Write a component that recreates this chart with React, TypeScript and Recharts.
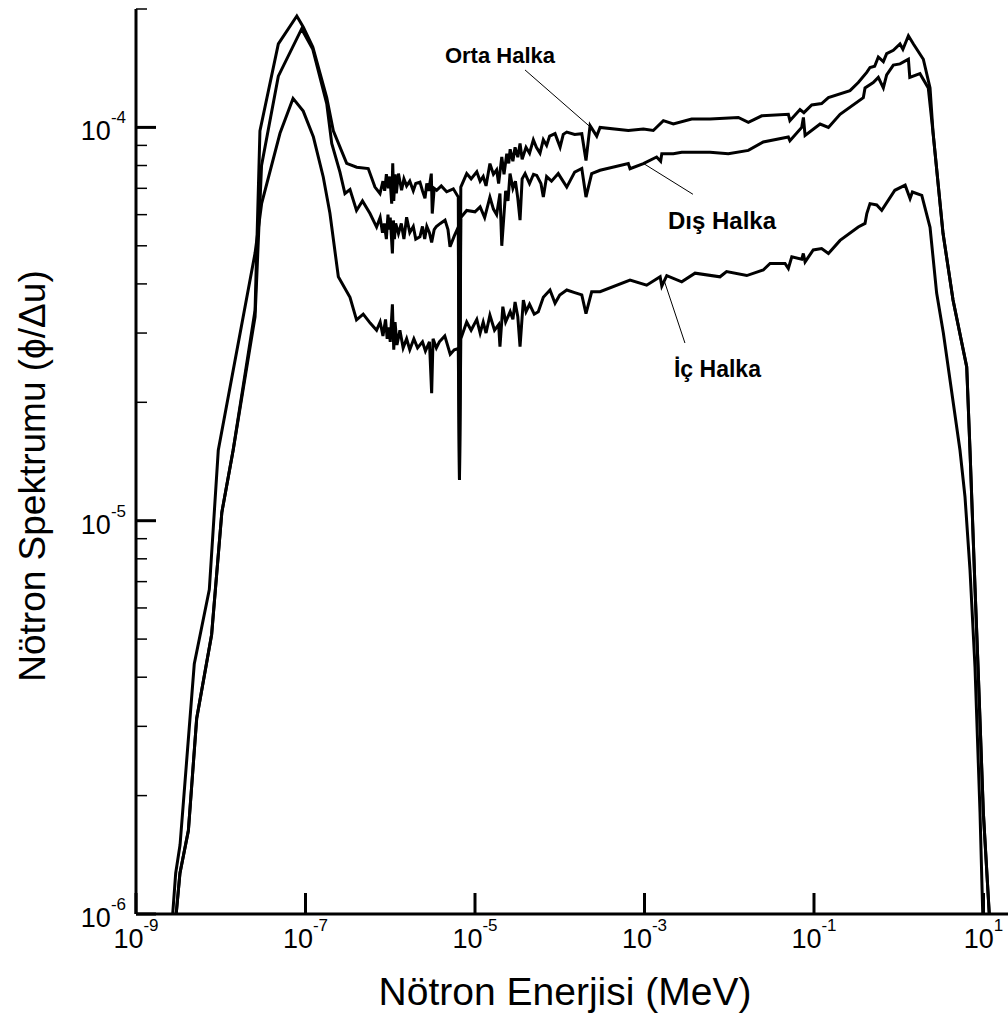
import React from 'react';
import { LineChart, Line, XAxis, YAxis, ReferenceLine, ReferenceDot, Label } from 'recharts';

const FONT = '"Liberation Sans", Arial, Helvetica, sans-serif';

// [energy (MeV), flux per lethargy]
const ortaHalka: [number, number][] = [
  [2.98e-9, 1.0e-6], [3.3e-9, 1.27e-6], [4.15e-9, 1.63e-6], [5.2e-9, 3.14e-6], [7.8e-9, 5.13e-6],
  [1.03e-8, 1.05e-5], [1.4e-8, 1.51e-5], [2.54e-8, 3.43e-5], [2.9e-8, 9.8e-5], [4.78e-8, 1.63e-4],
  [7.9e-8, 1.92e-4], [9.4e-8, 1.8e-4], [1.22e-7, 1.6e-4], [1.78e-7, 1.19e-4], [2.13e-7, 9.8e-5],
  [3.06e-7, 8.1e-5], [4.02e-7, 7.92e-5], [5.5e-7, 7.86e-5], [6.6e-7, 7.05e-5], [7.57e-7, 6.79e-5],
  [8.2e-7, 7.3e-5], [8.6e-7, 6.9e-5], [9.0e-7, 7.6e-5], [9.5e-7, 7.0e-5], [9.9e-7, 7.5e-5],
  [1.04e-6, 6.4e-5], [1.07e-6, 8.1e-5], [1.1e-6, 6.5e-5], [1.14e-6, 7.6e-5], [1.18e-6, 6.8e-5],
  [1.25e-6, 7.63e-5], [1.36e-6, 6.92e-5], [1.45e-6, 7.4e-5], [1.56e-6, 7.1e-5], [1.7e-6, 7.3e-5],
  [1.87e-6, 6.9e-5], [2.0e-6, 7.2e-5], [2.24e-6, 7.26e-5], [2.4e-6, 6.9e-5], [2.57e-6, 6.6e-5],
  [2.7e-6, 7.2e-5], [2.85e-6, 6.9e-5], [3.05e-6, 7.63e-5], [3.13e-6, 6.04e-5], [3.3e-6, 7.0e-5],
  [3.53e-6, 6.92e-5], [4.0e-6, 7.1e-5], [4.63e-6, 6.86e-5], [5.55e-6, 6.98e-5], [6.35e-6, 6.65e-5],
  [6.56e-6, 1.27e-5], [6.8e-6, 7.05e-5], [7.98e-6, 7.63e-5], [9.0e-6, 7.4e-5], [1.05e-5, 7.71e-5],
  [1.15e-5, 7.3e-5], [1.25e-5, 7.5e-5], [1.35e-5, 7.1e-5], [1.5e-5, 8.09e-5], [1.65e-5, 7.6e-5],
  [1.8e-5, 7.8e-5], [1.9e-5, 7.2e-5], [2.07e-5, 8.41e-5], [2.2e-5, 7.6e-5], [2.37e-5, 8.57e-5],
  [2.5e-5, 8.1e-5], [2.6e-5, 8.8e-5], [2.8e-5, 8.2e-5], [2.97e-5, 8.9e-5], [3.2e-5, 8.4e-5],
  [3.4e-5, 9.1e-5], [3.6e-5, 8.3e-5], [4.0e-5, 8.9e-5], [4.4e-5, 8.6e-5], [4.88e-5, 9.3e-5],
  [5.3e-5, 8.9e-5], [5.85e-5, 8.6e-5], [6.4e-5, 9.3e-5], [7.0e-5, 9.0e-5], [7.6e-5, 9.5e-5],
  [8.8e-5, 9.64e-5], [1.01e-4, 8.91e-5], [1.1e-4, 9.6e-5], [1.21e-4, 9.73e-5], [1.5e-4, 9.6e-5],
  [1.82e-4, 9.64e-5], [2.04e-4, 8.24e-5], [2.28e-4, 1.01e-4], [2.73e-4, 9.5e-5], [2.99e-4, 1.0e-4],
  [6.44e-4, 9.82e-5], [9.7e-4, 9.9e-5], [1.27e-3, 9.82e-5], [1.67e-3, 1.04e-4], [2.19e-3, 1.02e-4],
  [3.6e-3, 1.05e-4], [5.93e-3, 1.05e-4], [1.28e-2, 1.06e-4], [1.68e-2, 1.03e-4], [2.42e-2, 1.07e-4],
  [4.98e-2, 1.08e-4], [5.2e-2, 1.04e-4], [6.84e-2, 1.11e-4], [7.6e-2, 1.09e-4], [9.4e-2, 1.14e-4],
  [0.123, 1.15e-4], [0.148, 1.19e-4], [0.266, 1.24e-4], [0.333, 1.3e-4], [0.419, 1.38e-4],
  [0.458, 1.42e-4], [0.52, 1.43e-4], [0.574, 1.51e-4], [0.658, 1.47e-4], [0.72, 1.54e-4],
  [0.863, 1.57e-4], [1.035, 1.63e-4], [1.12, 1.58e-4], [1.3, 1.71e-4], [1.49, 1.63e-4],
  [1.95, 1.49e-4], [2.34, 1.26e-4], [2.54, 9.7e-5], [3.33, 5.38e-5], [4.37, 3.64e-5],
  [6.34, 2.46e-5], [6.93, 1.51e-5], [7.94, 6.76e-6], [8.69, 4.06e-6], [9.96, 1.81e-6],
  [11.7, 1.0e-6],
];

const disHalka: [number, number][] = [
  [2.98e-9, 1.0e-6], [3.3e-9, 1.27e-6], [4.15e-9, 1.63e-6], [5.2e-9, 3.14e-6], [7.8e-9, 5.13e-6],
  [1.03e-8, 1.05e-5], [1.4e-8, 1.51e-5], [2.54e-8, 3.3e-5], [3.03e-8, 8.0e-5], [4.78e-8, 1.35e-4],
  [9.0e-8, 1.78e-4], [1.22e-7, 1.58e-4], [1.78e-7, 1.15e-4], [2.04e-7, 9.1e-5], [2.55e-7, 7.7e-5],
  [2.92e-7, 6.79e-5], [3.35e-7, 6.95e-5], [4.0e-7, 6.15e-5], [4.7e-7, 6.5e-5], [5.77e-7, 6.04e-5],
  [6.9e-7, 5.58e-5], [7.6e-7, 5.9e-5], [8.1e-7, 5.4e-5], [8.5e-7, 5.7e-5], [9.0e-7, 5.2e-5],
  [9.4e-7, 6.0e-5], [9.7e-7, 5.5e-5], [1.0e-6, 5.9e-5], [1.06e-6, 4.78e-5], [1.09e-6, 5.8e-5],
  [1.12e-6, 5.2e-5], [1.16e-6, 5.7e-5], [1.25e-6, 5.37e-5], [1.35e-6, 5.7e-5], [1.45e-6, 5.2e-5],
  [1.56e-6, 5.91e-5], [1.7e-6, 5.4e-5], [1.87e-6, 5.6e-5], [2.0e-6, 5.2e-5], [2.24e-6, 5.27e-5],
  [2.4e-6, 5.6e-5], [2.55e-6, 5.2e-5], [2.7e-6, 5.6e-5], [2.9e-6, 5.4e-5], [3.08e-6, 5.1e-5],
  [3.3e-6, 5.5e-5], [3.5e-6, 5.6e-5], [3.9e-6, 5.7e-5], [4.43e-6, 5.81e-5], [4.8e-6, 5.5e-5],
  [5.07e-6, 4.97e-5], [5.7e-6, 5.3e-5], [6.35e-6, 5.58e-5], [6.56e-6, 1.27e-5], [6.8e-6, 5.9e-5],
  [7.98e-6, 6.15e-5], [1.0e-5, 6.1e-5], [1.15e-5, 6.28e-5], [1.3e-5, 5.9e-5], [1.5e-5, 6.65e-5],
  [1.65e-5, 6.2e-5], [1.8e-5, 6.0e-5], [1.97e-5, 6.79e-5], [2.07e-5, 5.0e-5], [2.3e-5, 6.9e-5],
  [2.45e-5, 6.5e-5], [2.59e-5, 7.63e-5], [2.8e-5, 7.0e-5], [3.0e-5, 7.3e-5], [3.2e-5, 6.6e-5],
  [3.4e-5, 5.81e-5], [3.6e-5, 7.4e-5], [3.9e-5, 7.63e-5], [4.4e-5, 7.2e-5], [4.9e-5, 7.6e-5],
  [5.35e-5, 7.55e-5], [6.0e-5, 7.2e-5], [6.4e-5, 6.65e-5], [7.0e-5, 7.5e-5], [8.0e-5, 7.3e-5],
  [9.6e-5, 7.63e-5], [1.21e-4, 7.05e-5], [1.5e-4, 7.7e-5], [1.82e-4, 7.86e-5], [2.04e-4, 6.65e-5],
  [2.38e-4, 7.63e-5], [2.99e-4, 7.78e-5], [6.44e-4, 8.09e-5], [6.75e-4, 7.85e-5], [9.7e-4, 8.09e-5],
  [1.39e-3, 8.41e-5], [1.55e-3, 8.2e-5], [1.6e-3, 8.57e-5], [2.19e-3, 8.57e-5], [2.75e-3, 8.65e-5],
  [5.93e-3, 8.65e-5], [9.75e-3, 8.57e-5], [1.68e-2, 8.74e-5], [2.52e-2, 9.18e-5], [4.98e-2, 9.45e-5],
  [5.2e-2, 9.25e-5], [7.16e-2, 1.0e-4], [7.5e-2, 1.06e-4], [7.85e-2, 9.54e-5], [0.118, 1.02e-4],
  [0.148, 1.0e-4], [0.203, 1.08e-4], [0.382, 1.19e-4], [0.4, 1.26e-4], [0.5, 1.3e-4],
  [0.574, 1.34e-4], [0.658, 1.26e-4], [0.72, 1.36e-4], [0.863, 1.44e-4], [1.035, 1.45e-4],
  [1.3, 1.49e-4], [1.35, 1.34e-4], [1.78, 1.37e-4], [2.23, 1.26e-4], [2.54, 9.7e-5],
  [3.33, 5.38e-5], [4.37, 3.64e-5], [6.34, 2.46e-5], [6.93, 1.51e-5], [7.94, 6.76e-6],
  [8.69, 4.06e-6], [9.96, 1.81e-6], [11.7, 1.0e-6],
];

const icHalka: [number, number][] = [
  [2.71e-9, 1.0e-6], [2.94e-9, 1.27e-6], [3.31e-9, 1.5e-6], [4.87e-9, 4.32e-6], [7.33e-9, 6.68e-6],
  [9.35e-9, 1.51e-5], [2.54e-8, 4.79e-5], [3.04e-8, 6.41e-5], [5.0e-8, 9.66e-5], [7.13e-8, 1.185e-4],
  [9.4e-8, 1.1e-4], [1.24e-7, 9.45e-5], [1.62e-7, 7.48e-5], [1.94e-7, 6.06e-5], [2.44e-7, 4.17e-5],
  [3.35e-7, 3.7e-5], [4.0e-7, 3.24e-5], [4.8e-7, 3.35e-5], [5.8e-7, 3.18e-5], [6.9e-7, 3.05e-5],
  [7.6e-7, 3.2e-5], [8.2e-7, 2.95e-5], [8.8e-7, 3.25e-5], [9.2e-7, 2.9e-5], [9.6e-7, 3.1e-5],
  [1.0e-6, 2.85e-5], [1.06e-6, 3.55e-5], [1.1e-6, 2.72e-5], [1.14e-6, 3.2e-5], [1.2e-6, 2.8e-5],
  [1.3e-6, 3.05e-5], [1.42e-6, 2.75e-5], [1.56e-6, 2.9e-5], [1.7e-6, 2.72e-5], [1.9e-6, 2.9e-5],
  [2.1e-6, 2.75e-5], [2.4e-6, 2.85e-5], [2.6e-6, 2.7e-5], [2.9e-6, 2.85e-5], [3.08e-6, 2.11e-5],
  [3.2e-6, 2.9e-5], [3.5e-6, 2.75e-5], [3.8e-6, 2.85e-5], [4.4e-6, 2.95e-5], [5.1e-6, 2.65e-5],
  [5.7e-6, 2.72e-5], [6.35e-6, 2.74e-5], [6.56e-6, 1.27e-5], [6.8e-6, 2.9e-5], [7.98e-6, 3.2e-5],
  [9.0e-6, 3.05e-5], [1.05e-5, 3.25e-5], [1.15e-5, 3.0e-5], [1.25e-5, 3.2e-5], [1.35e-5, 3.0e-5],
  [1.5e-5, 3.33e-5], [1.7e-5, 3.05e-5], [1.9e-5, 3.15e-5], [1.97e-5, 2.77e-5], [2.13e-5, 3.5e-5],
  [2.3e-5, 3.2e-5], [2.6e-5, 3.4e-5], [2.8e-5, 3.25e-5], [2.97e-5, 3.6e-5], [3.2e-5, 3.3e-5],
  [3.4e-5, 2.77e-5], [3.72e-5, 3.64e-5], [4.0e-5, 3.4e-5], [4.4e-5, 3.55e-5], [5.0e-5, 3.35e-5],
  [5.58e-5, 3.4e-5], [6.4e-5, 3.7e-5], [7.67e-5, 3.86e-5], [8.8e-5, 3.57e-5], [1.0e-4, 3.75e-5],
  [1.21e-4, 3.86e-5], [1.5e-4, 3.8e-5], [1.82e-4, 3.75e-5], [2.04e-4, 3.36e-5], [2.38e-4, 3.82e-5],
  [2.99e-4, 3.82e-5], [6.75e-4, 4.09e-5], [1.06e-3, 3.97e-5], [1.53e-3, 4.17e-5], [1.6e-3, 3.95e-5],
  [1.83e-3, 4.2e-5], [2.75e-3, 4.05e-5], [3.95e-3, 4.26e-5], [7.78e-3, 4.17e-5], [9.3e-3, 4.3e-5],
  [1.61e-2, 4.2e-5], [2.52e-2, 4.34e-5], [3.03e-2, 4.51e-5], [4.55e-2, 4.51e-5], [4.98e-2, 4.38e-5],
  [5.47e-2, 4.69e-5], [7.16e-2, 4.62e-5], [7.48e-2, 4.78e-5], [7.85e-2, 4.55e-5], [9.8e-2, 4.88e-5],
  [0.123, 4.92e-5], [0.148, 4.78e-5], [0.203, 5.16e-5], [0.333, 5.58e-5], [0.4, 5.7e-5],
  [0.42, 6.04e-5], [0.458, 6.4e-5], [0.55, 6.35e-5], [0.63, 6.15e-5], [0.9, 6.92e-5],
  [1.19, 7.13e-5], [1.36, 6.59e-5], [1.45, 6.85e-5], [1.87, 6.72e-5], [2.34, 5.57e-5],
  [2.8, 3.79e-5], [3.36, 3.0e-5], [5.28, 1.51e-5], [6.05, 1.15e-5], [6.93, 7.5e-6],
  [7.94, 4.24e-6], [9.1, 1.81e-6], [9.8, 1.0e-6],
];

const xTicks = [1e-9, 1e-7, 1e-5, 1e-3, 1e-1, 10];
const yTicks = [
  1e-6, 2e-6, 3e-6, 4e-6, 5e-6, 6e-6, 7e-6, 8e-6, 9e-6,
  1e-5, 2e-5, 3e-5, 4e-5, 5e-5, 6e-5, 7e-5, 8e-5, 9e-5,
  1e-4, 2e-4,
];
const xDomain: [number, number] = [1e-9, 19.46];
const yDomain: [number, number] = [1e-6, 2e-4];

// Annotations: label centre and leader segment in data coordinates
const annotations = [
  { text: 'Orta Halka', size: 22, at: [1.97e-5, 1.52e-4], from: [3.89e-5, 1.4e-4], to: [2.4e-4, 9.94e-5] },
  { text: 'Dış Halka', size: 24, at: [8.22e-3, 5.81e-5], from: [9.6e-4, 8.11e-5], to: [3.73e-3, 6.76e-5] },
  { text: 'İç Halka', size: 23, at: [7.26e-3, 2.43e-5], from: [1.7e-3, 4.09e-5], to: [3.0e-3, 2.83e-5] },
];

const rows = (pts: [number, number][]) => pts.map(([E, phi]) => ({ E, phi }));

const isMajor = (v: number) => {
  const l = Math.log10(v);
  return Math.abs(l - Math.round(l)) < 1e-6;
};

const XTick = (props: any) => {
  const { x, y, payload } = props;
  const exp = Math.round(Math.log10(payload.value));
  return (
    <g>
      <line x1={x} y1={y} x2={x} y2={y - 21} stroke="#000" strokeWidth={3} />
      <text x={x} y={y + 34} textAnchor="middle" fill="#000" fontFamily={FONT}>
        <tspan fontSize={27}>10</tspan>
        <tspan fontSize={17} dy={-17}>{exp}</tspan>
      </text>
    </g>
  );
};

const YTick = (props: any) => {
  const { x, y, payload } = props;
  const v = payload.value;
  if (isMajor(v)) {
    const exp = Math.round(Math.log10(v));
    return (
      <g>
        <line x1={x} y1={y} x2={x + 20} y2={y} stroke="#000" strokeWidth={3} />
        <text x={x - 10} y={y + 13} textAnchor="end" fill="#000" fontFamily={FONT}>
          <tspan fontSize={27}>10</tspan>
          <tspan fontSize={17} dy={-17}>{exp}</tspan>
        </text>
      </g>
    );
  }
  return <line x1={x} y1={y} x2={x + 11} y2={y} stroke="#000" strokeWidth={1.5} />;
};

export default function App() {
  const W = 1008;
  const H = 1021;
  return (
    <div style={{ position: 'absolute', left: 0, top: 0, width: W, height: H, background: '#fff' }}>
      <LineChart width={W} height={H} margin={{ top: 9, right: 0, bottom: 0, left: 0 }}>
        <XAxis
          type="number"
          dataKey="E"
          scale="log"
          domain={xDomain}
          allowDataOverflow
          ticks={xTicks}
          interval={0}
          tickSize={0}
          tickMargin={0}
          tickLine={false}
          tick={<XTick />}
          height={107}
          axisLine={{ stroke: '#000', strokeWidth: 3 }}
        >
          <Label
            content={(p: any) => {
              const vb = p.viewBox;
              return (
                <text x={vb.x + vb.width / 2 - 7} y={vb.y + 91} textAnchor="middle" fontSize={39} fontFamily={FONT} fill="#000">
                  Nötron Enerjisi (MeV)
                </text>
              );
            }}
          />
        </XAxis>
        <YAxis
          type="number"
          dataKey="phi"
          scale="log"
          domain={yDomain}
          allowDataOverflow
          ticks={yTicks}
          interval={0}
          tickSize={0}
          tickMargin={0}
          tickLine={false}
          tick={<YTick />}
          width={136}
          axisLine={{ stroke: '#000', strokeWidth: 3 }}
        >
          <Label
            content={() => (
              <text
                x={45}
                y={476}
                transform="rotate(-90 45 476)"
                textAnchor="middle"
                fontSize={37}
                fontFamily={FONT}
                fill="#000"
              >
                Nötron Spektrumu (ϕ/Δu)
              </text>
            )}
          />
        </YAxis>
        <Line data={rows(icHalka)} dataKey="phi" type="linear" stroke="#000" strokeWidth={3} dot={false} isAnimationActive={false} />
        <Line data={rows(disHalka)} dataKey="phi" type="linear" stroke="#000" strokeWidth={3} dot={false} isAnimationActive={false} />
        <Line data={rows(ortaHalka)} dataKey="phi" type="linear" stroke="#000" strokeWidth={3} dot={false} isAnimationActive={false} />
        {annotations.map((a) => (
          <ReferenceLine
            key={a.text + '-l'}
            segment={[{ x: a.from[0], y: a.from[1] }, { x: a.to[0], y: a.to[1] }]}
            stroke="#000"
            strokeWidth={1}
          />
        ))}
        {annotations.map((a) => (
          <ReferenceDot
            key={a.text}
            x={a.at[0]}
            y={a.at[1]}
            r={0}
            ifOverflow="visible"
            shape={(p: any) => (
              <text
                x={p.cx}
                y={p.cy}
                textAnchor="middle"
                dominantBaseline="central"
                fontSize={a.size}
                fontWeight="bold"
                fontFamily={FONT}
                fill="#000"
              >
                {a.text}
              </text>
            )}
          />
        ))}
      </LineChart>
    </div>
  );
}
